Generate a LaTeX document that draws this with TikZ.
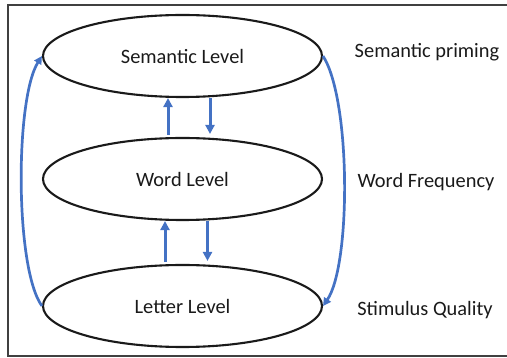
\documentclass[tikz,border=0pt]{standalone}
\usepackage{fontspec}
\setmainfont{Carlito}
\usetikzlibrary{arrows.meta,shapes.geometric}
\definecolor{arrowblue}{HTML}{4472C4}
\definecolor{inkgray}{HTML}{1A1A1A}
\begin{document}
\begin{tikzpicture}[x=1pt,y=1pt,
  level/.style={draw=inkgray,line width=2.1pt,ellipse,minimum width=279pt,minimum height=82pt,inner sep=0pt,text=inkgray,font=\fontsize{20.4}{24}\selectfont},
  sidelabel/.style={font=\fontsize{20.4}{24}\selectfont,inner sep=0pt,text=inkgray},
  flow/.style={draw=arrowblue,line width=3pt,-{Triangle[width=9pt,length=9pt]}},
  loop/.style={draw=arrowblue,line width=2.7pt,-{Triangle[width=8pt,length=8pt]}}]
\useasboundingbox (0,0) rectangle (507,-358);
\draw[line width=1.2pt,draw=black!75] (507,-5) -- (8,-5) -- (8,-356) -- (507,-356);
\node[level] (sem) at (182.5,-56) {Semantic Level};
\node[level] (word) at (182.5,-179) {Word Level};
\node[level] (let) at (182.5,-306) {Letter Level};
\node[sidelabel] (lsem) at (427,-52) {Semantic priming};
\node[sidelabel] (lword) at (426,-182) {Word Frequency};
\node[sidelabel] (llet) at (425,-310) {Stimulus Quality};
\draw[flow] ([xshift=-14.5pt,yshift=2pt]word.north) -- ([xshift=-14.5pt]sem.south);
\draw[flow] ([xshift=27.5pt]sem.south) -- ([xshift=27.5pt,yshift=3pt]word.north);
\draw[flow] ([xshift=-17.5pt,yshift=2pt]let.north) -- ([xshift=-17.5pt]word.south);
\draw[flow] ([xshift=25pt]word.south) -- ([xshift=25pt,yshift=3pt]let.north);
\draw[loop] (let.west) .. controls +(-27,37) and +(-27,-43) .. (sem.west);
\draw[loop] (sem.east) .. controls +(28,-44) and +(28,41) .. (let.east);
\end{tikzpicture}
\end{document}
